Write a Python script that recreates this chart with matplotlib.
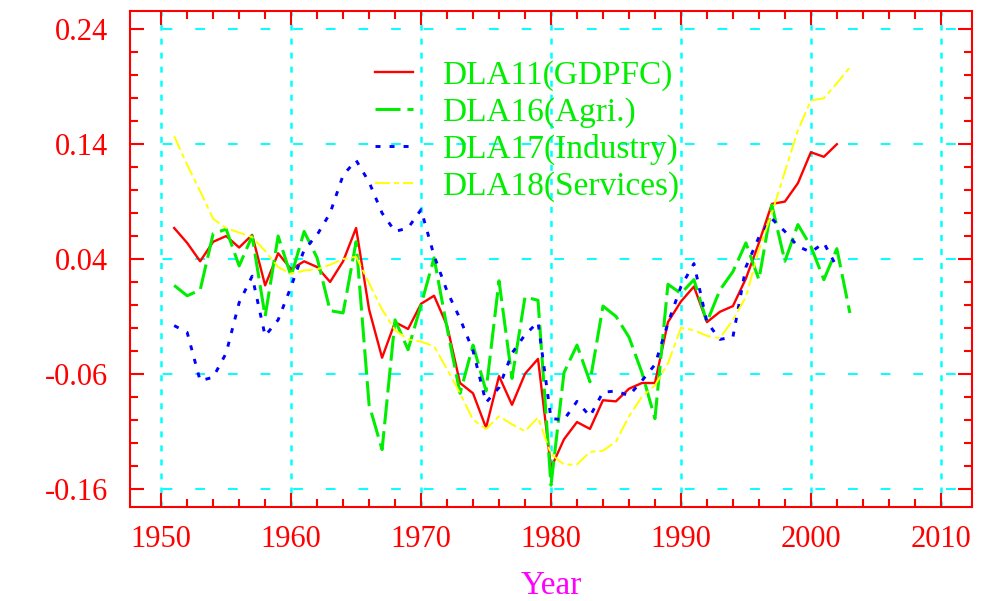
import numpy as np
import matplotlib
matplotlib.use("Agg")
import matplotlib.pyplot as plt
from matplotlib.ticker import FixedLocator, MultipleLocator

plt.rcParams['font.family'] = ['Liberation Serif', 'DejaVu Serif']
plt.rcParams['lines.scale_dashes'] = False

# values
years = np.arange(1951, 2004)

dla11 = [0.067, 0.054, 0.038, 0.055, 0.060, 0.050, 0.061, 0.017, 0.045, 0.031,
         0.038, 0.033, 0.020, 0.038, 0.067, -0.004, -0.046, -0.015, -0.021, 0.001,
         0.008, -0.018, -0.068, -0.077, -0.107, -0.062, -0.087, -0.060, -0.047, -0.142,
         -0.117, -0.102, -0.108, -0.083, -0.084, -0.073, -0.068, -0.068, -0.015, 0.003,
         0.016, -0.015, -0.006, -0.001, 0.023, 0.054, 0.088, 0.090, 0.106, 0.133,
         0.129, 0.140]

dla16 = [0.017, 0.008, 0.013, 0.062, 0.066, 0.034, 0.060, -0.010, 0.060, 0.025,
         0.064, 0.041, -0.005, -0.007, 0.055, -0.087, -0.126, -0.013, -0.039, 0.000,
         0.041, -0.020, -0.077, -0.035, -0.075, 0.021, -0.064, 0.007, 0.004, -0.157,
         -0.059, -0.035, -0.067, -0.001, -0.010, -0.028, -0.059, -0.099, 0.018, 0.010,
         0.022, -0.015, 0.013, 0.029, 0.054, 0.022, 0.087, 0.038, 0.070, 0.051,
         0.022, 0.049, -0.007]

dla17 = [-0.018, -0.024, -0.066, -0.063, -0.042, 0.002, 0.025, -0.027, -0.013, 0.016,
         0.048, 0.061, 0.080, 0.113, 0.126, 0.107, 0.080, 0.064, 0.067, 0.083,
         0.043, 0.012, -0.012, -0.040, -0.085, -0.072, -0.042, -0.026, -0.015, -0.099,
         -0.100, -0.084, -0.097, -0.076, -0.075, -0.079, -0.066, -0.052, -0.016, 0.016,
         0.036, -0.015, -0.030, -0.028, 0.033, 0.059, 0.075, 0.064, 0.051, 0.046,
         0.054, 0.033]

dla18 = [0.147, 0.122, 0.099, 0.075, 0.067, 0.063, 0.059, 0.047, 0.033, 0.027,
         0.030, 0.031, 0.035, 0.040, 0.042, 0.019, -0.004, -0.022, -0.030, -0.032,
         -0.036, -0.056, -0.077, -0.100, -0.108, -0.097, -0.104, -0.110, -0.098, -0.130,
         -0.139, -0.139, -0.128, -0.127, -0.119, -0.097, -0.080, -0.070, -0.051, -0.020,
         -0.022, -0.027, -0.029, -0.013, 0.007, 0.048, 0.080, 0.116, 0.152, 0.178,
         0.180, 0.193, 0.207]

labels = ['DLA11(GDPFC)', 'DLA16(Agri.)', 'DLA17(Industry)', 'DLA18(Services)']

x_major = [1950, 1960, 1970, 1980, 1990, 2000, 2010]
y_major = [-0.16, -0.06, 0.04, 0.14, 0.24]
y_ticklabels = ['-0.16', '-0.06', '0.04', '0.14', '0.24']

fig = plt.figure(figsize=(9.92, 6.01), dpi=100)
ax = fig.add_axes([130/992, 94/601, 842/992, 496/601])

# cyan grid
for yv in y_major:
    ax.axhline(yv, color='#00ffff', lw=1.4, dashes=(7, 16.5), zorder=1)
for xv in x_major:
    ax.axvline(xv, color='#00ffff', lw=1.8, dashes=(4.3, 5.8), zorder=1)

ax.plot(years[:len(dla11)], dla11, color='#ff0000', lw=1.7, label=labels[0], zorder=3)
ax.plot(years[:len(dla16)], dla16, color='#00ee00', lw=2.2, dashes=(18, 5), label=labels[1], zorder=3)
ax.plot(years[:len(dla17)], dla17, color='#0000ff', lw=2.1, dashes=(3.6, 6.5), label=labels[2], zorder=3)
ax.plot(years[:len(dla18)], dla18, color='#ffff00', lw=1.4, dashes=(10.8, 2.9, 3.6, 2.9), label=labels[3], zorder=3)

ax.set_xlim(1947.6, 2012.4)
ax.set_ylim(-0.176, 0.256)

ax.xaxis.set_major_locator(FixedLocator(x_major))
ax.xaxis.set_minor_locator(FixedLocator(np.arange(1950, 2011, 2)))
ax.yaxis.set_major_locator(FixedLocator(y_major))
ax.yaxis.set_minor_locator(MultipleLocator(0.02))
ax.set_yticklabels(y_ticklabels)
ax.set_xticklabels([str(v) for v in x_major])

for s in ax.spines.values():
    s.set_color('#ff0000')
    s.set_linewidth(1.5)

ax.tick_params(which='both', direction='in', colors='#ff0000', top=True, right=True, width=1.5)
ax.tick_params(which='major', length=10, labelsize=22)
ax.tick_params(which='minor', length=6)
ax.tick_params(axis='y', pad=16)
ax.tick_params(axis='x', pad=13)

ax.set_xlabel('Year', color='#ff00ff', fontsize=24, labelpad=12)

leg = ax.legend(loc='upper left', bbox_to_anchor=((375-130)/842, (507-60)/496),
                frameon=False, fontsize=24, handlelength=1.15, handletextpad=0.85,
                labelspacing=0.18, borderpad=0, borderaxespad=0, labelcolor='#00ee00')

fig.savefig('out.png', dpi=100)
